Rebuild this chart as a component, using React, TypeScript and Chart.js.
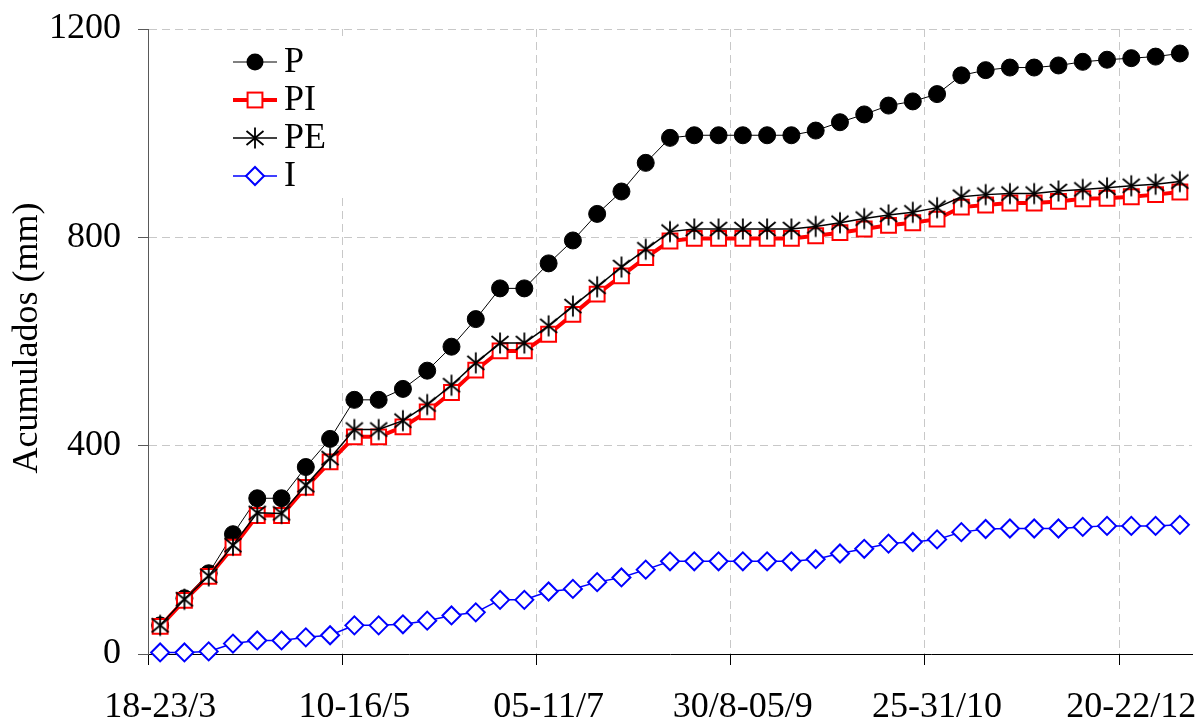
import React, { useEffect, useRef } from "react";
import { Chart, registerables } from "chart.js";

Chart.register(...registerables);

const FONT = "'Liberation Serif', 'Times New Roman', serif";

// 43 weekly periods; only every 8th one is labelled on the axis
const categories: string[] = [
  "18-23/3", "", "", "", "", "", "", "",
  "10-16/5", "", "", "", "", "", "", "",
  "05-11/7", "", "", "", "", "", "", "",
  "30/8-05/9", "", "", "", "", "", "", "",
  "25-31/10", "", "", "", "", "", "", "",
  "20-22/12", "", "",
];

const seriesP = [
  55, 107, 155, 230, 299, 299, 359, 413, 488, 488, 509, 544, 590, 643, 702, 702,
  750, 794, 845, 888, 943, 991, 996, 996, 996, 996, 996, 1005, 1021, 1036, 1053,
  1061, 1075, 1111, 1121, 1126, 1126, 1130, 1137, 1141, 1144, 1147, 1153,
];
const seriesPI = [
  53, 103, 149, 205, 266, 266, 320, 369, 417, 417, 436, 465, 502, 545, 582, 582,
  614, 652, 691, 726, 761, 793, 798, 798, 798, 798, 798, 803, 809, 816, 823, 828,
  835, 858, 862, 866, 866, 869, 874, 875, 878, 882, 887,
];
const seriesPE = [
  55, 105, 150, 209, 271, 270, 324, 376, 431, 431, 448, 479, 516, 559, 597, 597,
  630, 668, 705, 743, 777, 811, 816, 816, 816, 816, 816, 821, 828, 836, 843, 848,
  857, 878, 882, 884, 884, 889, 892, 895, 899, 902, 907,
];
const seriesI = [
  3, 3, 5, 20, 26, 26, 32, 36, 55, 55, 57, 64, 74, 80, 104, 104, 120, 125, 138,
  147, 162, 178, 178, 178, 178, 178, 178, 182, 193, 202, 212, 215, 220, 234, 240,
  241, 241, 241, 244, 246, 246, 246, 248,
];

const seriesNames = ["P", "PI", "PE", "I"];
const yTicks = [0, 400, 800, 1200];
const yTitle = "Acumulados (mm)";
const TICK_EVERY = 8;

function makeAsterisk(): HTMLCanvasElement {
  const c = document.createElement("canvas");
  c.width = 24;
  c.height = 24;
  const g = c.getContext("2d")!;
  g.strokeStyle = "#000";
  g.lineWidth = 1.8;
  g.beginPath();
  g.moveTo(12, 1.5);
  g.lineTo(12, 22.5);
  g.moveTo(3.5, 5);
  g.lineTo(20.5, 19);
  g.moveTo(20.5, 5);
  g.lineTo(3.5, 19);
  g.stroke();
  return c;
}

export default function App() {
  const ref = useRef<HTMLCanvasElement | null>(null);

  useEffect(() => {
    if (!ref.current) return;
    const asterisk = makeAsterisk();

    const legendPlugin = {
      id: "customLegend",
      afterDraw(chart: any) {
        const ctx = chart.ctx as CanvasRenderingContext2D;
        ctx.save();
        // legend box (white background, no border)
        ctx.fillStyle = "#fff";
        ctx.fillRect(224, 36, 128, 160);
        const rows = [62, 100, 138, 176];
        const x0 = 233, x1 = 277, xm = 255;
        chart.data.datasets.forEach((ds: any, i: number) => {
          const y = rows[i];
          ctx.strokeStyle = ds.borderColor;
          ctx.lineWidth = ds.borderWidth;
          ctx.beginPath();
          ctx.moveTo(x0, y);
          ctx.lineTo(x1, y);
          ctx.stroke();
          ctx.lineWidth = ds.pointBorderWidth;
          if (ds.pointStyle === "circle") {
            ctx.fillStyle = "#000";
            ctx.beginPath();
            ctx.arc(xm, y, ds.pointRadius, 0, Math.PI * 2);
            ctx.fill();
          } else if (ds.pointStyle === "rect") {
            const h = ds.pointRadius * Math.SQRT1_2;
            ctx.fillStyle = "#fff";
            ctx.strokeStyle = ds.pointBorderColor;
            ctx.fillRect(xm - h, y - h, 2 * h, 2 * h);
            ctx.strokeRect(xm - h, y - h, 2 * h, 2 * h);
          } else if (ds.pointStyle === "rectRot") {
            const r = ds.pointRadius;
            ctx.fillStyle = "#fff";
            ctx.strokeStyle = ds.pointBorderColor;
            ctx.beginPath();
            ctx.moveTo(xm - r, y);
            ctx.lineTo(xm, y - r);
            ctx.lineTo(xm + r, y);
            ctx.lineTo(xm, y + r);
            ctx.closePath();
            ctx.fill();
            ctx.stroke();
          } else {
            ctx.drawImage(asterisk, xm - 12, y - 12);
          }
          ctx.fillStyle = "#000";
          ctx.font = `36px ${FONT}`;
          ctx.textAlign = "left";
          ctx.textBaseline = "middle";
          ctx.fillText(ds.label, 284, y + 1);
        });
        // y axis title
        ctx.translate(37, 338);
        ctx.rotate(-Math.PI / 2);
        ctx.font = `36px ${FONT}`;
        ctx.textAlign = "center";
        ctx.textBaseline = "alphabetic";
        ctx.fillStyle = "#000";
        ctx.fillText(yTitle, 0, 0);
        ctx.restore();
      },
    };

    const chart = new Chart(ref.current, {
      type: "line",
      data: {
        labels: categories,
        datasets: [
          {
            label: seriesNames[0],
            data: seriesP,
            borderColor: "#000",
            borderWidth: 1,
            pointStyle: "circle",
            pointRadius: 8.5,
            pointBackgroundColor: "#000",
            pointBorderColor: "#000",
            pointBorderWidth: 1,
            order: 4,
            clip: false,
          },
          {
            label: seriesNames[1],
            data: seriesPI,
            borderColor: "#ff0000",
            borderWidth: 4,
            pointStyle: "rect",
            pointRadius: 10.5,
            pointBackgroundColor: "#fff",
            pointBorderColor: "#ff0000",
            pointBorderWidth: 2,
            order: 3,
            clip: false,
          },
          {
            label: seriesNames[2],
            data: seriesPE,
            borderColor: "#000",
            borderWidth: 1.5,
            pointStyle: asterisk,
            pointRadius: 10,
            pointBorderWidth: 1.8,
            order: 2,
            clip: false,
          },
          {
            label: seriesNames[3],
            data: seriesI,
            borderColor: "#0000ff",
            borderWidth: 1.5,
            pointStyle: "rectRot",
            pointRadius: 9,
            pointBackgroundColor: "#fff",
            pointBorderColor: "#0000ff",
            pointBorderWidth: 2,
            order: 1,
            clip: false,
          },
        ] as any,
      },
      options: {
        responsive: false,
        animation: false,
        layout: { autoPadding: false, padding: { top: 29, right: 9, left: 0, bottom: 0 } },
        plugins: { legend: { display: false }, tooltip: { enabled: false } },
        scales: {
          x: {
            type: "category",
            offset: true,
            grid: {
              offset: true,
              color: (c: any) =>
                typeof c.index === "number" && c.index % TICK_EVERY === 0 && c.index > 0
                  ? "#c8c8c8"
                  : "rgba(0,0,0,0)",
              tickColor: (c: any) =>
                typeof c.index === "number" && c.index % TICK_EVERY === 0
                  ? "#000"
                  : "rgba(0,0,0,0)",
              lineWidth: 1,
              tickLength: 11,
              tickWidth: 1,
              borderDash: [8, 5],
              tickBorderDash: [],
            } as any,
            border: { display: true, color: "#000", width: 1, dash: [8, 5] } as any,
            ticks: {
              autoSkip: false,
              maxRotation: 0,
              minRotation: 0,
              color: "#000",
              font: { family: FONT, size: 36 },
              padding: 21,
              callback: (_v: any, i: number) => categories[i],
            },
            afterFit: (s: any) => {
              s.height = 70;
              s.paddingLeft = 0;
              s.paddingRight = 0;
            },
          } as any,
          y: {
            min: 0,
            max: 1200,
            afterBuildTicks: (s: any) => {
              s.ticks = yTicks.map((v) => ({ value: v }));
            },
            ticks: {
              color: "#000",
              font: { family: FONT, size: 36 },
              padding: 17,
              callback: (v: any) => String(v),
            },
            grid: {
              color: (c: any) =>
                c.tick && c.tick.value === 0 ? "rgba(0,0,0,0)" : "#c8c8c8",
              tickColor: "#595959",
              lineWidth: 1,
              tickLength: 10,
              tickWidth: 1,
              borderDash: [8, 5],
              tickBorderDash: [],
            } as any,
            border: { display: true, color: "#595959", width: 1, dash: [8, 5] } as any,
            afterFit: (s: any) => {
              s.width = 148;
              s.paddingTop = 0;
              s.paddingBottom = 0;
            },
          } as any,
        },
      },
      plugins: [legendPlugin],
    });
    return () => chart.destroy();
  }, []);

  return (
    <div style={{ position: "absolute", left: 0, top: 0, width: 1201, height: 724, background: "#fff" }}>
      <canvas ref={ref} width={1201} height={724} style={{ display: "block", width: 1201, height: 724 }} />
    </div>
  );
}
